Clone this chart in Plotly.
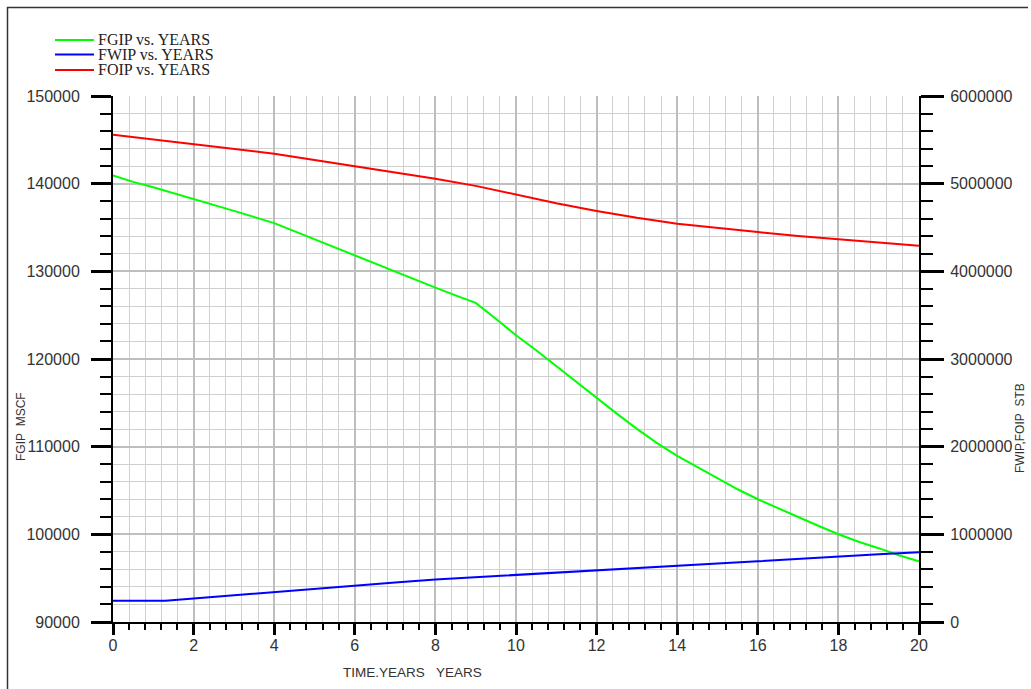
import plotly.graph_objects as go

# ---------------- data ----------------
fgip_years = [0, 0.5, 1, 2, 3, 4, 5, 6, 7, 8, 8.5, 9, 9.5, 10, 10.5, 11, 11.5, 12, 12.5, 13,
              13.5, 14, 14.5, 15, 15.5, 16, 16.5, 17, 17.5, 18, 18.5, 19, 19.5, 20]
fgip_mscf = [140950, 140200, 139600, 138290, 136900, 135500, 133650, 131750, 129950, 128140,
             127250, 126400, 124600, 122700, 120990, 119170, 117310, 115490, 113770, 112030,
             110400, 108940, 107650, 106360, 105140, 104000, 102980, 101950, 100980, 100010,
             99150, 98420, 97620, 96930]

fwip_years = [0, 1.3, 2, 3, 4, 5, 6, 7, 8, 9, 10, 11, 12, 13, 14, 15, 16, 17, 18, 19, 20]
fwip_stb = [241000, 241000, 268000, 306000, 343000, 380000, 416000, 451000, 485000, 510000,
            534000, 563000, 591000, 616000, 640000, 667000, 693000, 722000, 750000, 773000, 796000]

foip_years = [0, 1, 2, 3, 4, 5, 6, 7, 8, 9, 9.6, 10, 11, 12, 13, 14, 15, 16, 17, 18, 19, 20]
foip_stb = [5559000, 5505000, 5456000, 5400000, 5342000, 5270000, 5197000, 5127000, 5057000,
            4975000, 4916000, 4870000, 4776000, 4688000, 4610000, 4544000, 4492000, 4448000,
            4404000, 4365000, 4327000, 4293000]

legend_labels = ["FGIP vs. YEARS", "FWIP vs. YEARS", "FOIP vs. YEARS"]
colors = ["#00ff00", "#0000ff", "#ff0000"]

# ---------------- figure geometry ----------------
W, H = 1031, 689
ML, MR, MT, MB = 113, 112, 96, 67
PW, PH = W - ML - MR, H - MT - MB


def px(x):
    return (x - ML) / PW


def py(y):
    return (H - MB - y) / PH


fig = go.Figure()
fig.add_trace(go.Scatter(x=fgip_years, y=fgip_mscf, mode="lines", name=legend_labels[0],
                         line=dict(color=colors[0], width=2), yaxis="y"))
fig.add_trace(go.Scatter(x=fwip_years, y=fwip_stb, mode="lines", name=legend_labels[1],
                         line=dict(color=colors[1], width=2), yaxis="y2"))
fig.add_trace(go.Scatter(x=foip_years, y=foip_stb, mode="lines", name=legend_labels[2],
                         line=dict(color=colors[2], width=2), yaxis="y2"))

tickfont = dict(family="Liberation Sans, Arial, sans-serif", size=16, color="#333333")

fig.update_layout(
    width=W, height=H,
    margin=dict(l=ML, r=MR, t=MT, b=MB),
    paper_bgcolor="white", plot_bgcolor="white",
    showlegend=False,
    xaxis=dict(
        range=[0, 20], dtick=2, tick0=0,
        showline=True, linecolor="black", linewidth=2,
        ticks="outside", ticklen=11, tickwidth=2.5, tickcolor="black",
        tickfont=tickfont, ticklabelstandoff=-3,
        showgrid=True, gridcolor="#bebebe", gridwidth=2,
        zeroline=False,
        minor=dict(dtick=0.4, tick0=0, ticks="outside", ticklen=6, tickwidth=1.5,
                   tickcolor="black", showgrid=True, gridcolor="#d0d0d0", gridwidth=1),
    ),
    yaxis=dict(
        range=[90000, 150000], dtick=10000, tick0=0, tickformat="d",
        showline=True, linecolor="black", linewidth=2,
        ticks="outside", ticklen=20, tickwidth=2.5, tickcolor="black",
        tickfont=tickfont, ticklabelstandoff=8,
        showgrid=True, gridcolor="#bebebe", gridwidth=2,
        zeroline=False,
        minor=dict(dtick=2000, tick0=0, ticks="outside", ticklen=11, tickwidth=1.5,
                   tickcolor="black", showgrid=True, gridcolor="#d0d0d0", gridwidth=1),
    ),
    yaxis2=dict(
        range=[0, 6000000], dtick=1000000, tick0=0, tickformat="d",
        overlaying="y", side="right", anchor="x",
        showline=True, linecolor="black", linewidth=2,
        ticks="outside", ticklen=23, tickwidth=2.5, tickcolor="black",
        tickfont=tickfont, ticklabelstandoff=3,
        showgrid=False, zeroline=False,
        minor=dict(dtick=200000, tick0=0, ticks="outside", ticklen=12, tickwidth=1.5,
                   tickcolor="black", showgrid=False),
    ),
)

annotations = []
shapes = []

# manual legend (tight spacing like the reference)
leg_y = [40, 54.5, 70]
for lab, col, yy in zip(legend_labels, colors, leg_y):
    shapes.append(dict(type="line", xref="paper", yref="paper",
                       x0=px(55), x1=px(94), y0=py(yy), y1=py(yy),
                       line=dict(color=col, width=2)))
    annotations.append(dict(text=lab, xref="paper", yref="paper", x=px(96), y=py(yy),
                            xanchor="left", yanchor="middle", showarrow=False,
                            font=dict(family="Liberation Serif, Times New Roman, serif",
                                      size=16, color="#222222")))

# axis titles
annotations.append(dict(text="TIME.YEARS\u00a0\u00a0\u00a0YEARS", xref="paper", yref="paper",
                        x=px(412), y=py(673), xanchor="center", yanchor="middle",
                        showarrow=False,
                        font=dict(family="Liberation Sans, Arial, sans-serif", size=13.5, color="#333333")))
annotations.append(dict(text="FGIP\u00a0\u00a0MSCF", xref="paper", yref="paper",
                        x=px(21), y=py(427), xanchor="center", yanchor="middle",
                        textangle=-90, showarrow=False,
                        font=dict(family="Liberation Sans, Arial, sans-serif", size=12, color="#333333")))
annotations.append(dict(text="FWIP,FOIP\u00a0\u00a0STB", xref="paper", yref="paper",
                        x=px(1020), y=py(428), xanchor="center", yanchor="middle",
                        textangle=-90, showarrow=False,
                        font=dict(family="Liberation Sans, Arial, sans-serif", size=12, color="#333333")))

# outer frame (top and left edges visible in reference)
shapes.append(dict(type="line", xref="paper", yref="paper", x0=px(7), x1=px(1028),
                   y0=py(7.5), y1=py(7.5), line=dict(color="#333333", width=1.5)))
shapes.append(dict(type="line", xref="paper", yref="paper", x0=px(7.5), x1=px(7.5),
                   y0=py(7), y1=py(700), line=dict(color="#333333", width=1.5)))

fig.update_layout(annotations=annotations, shapes=shapes)

fig.write_html("out.html")
